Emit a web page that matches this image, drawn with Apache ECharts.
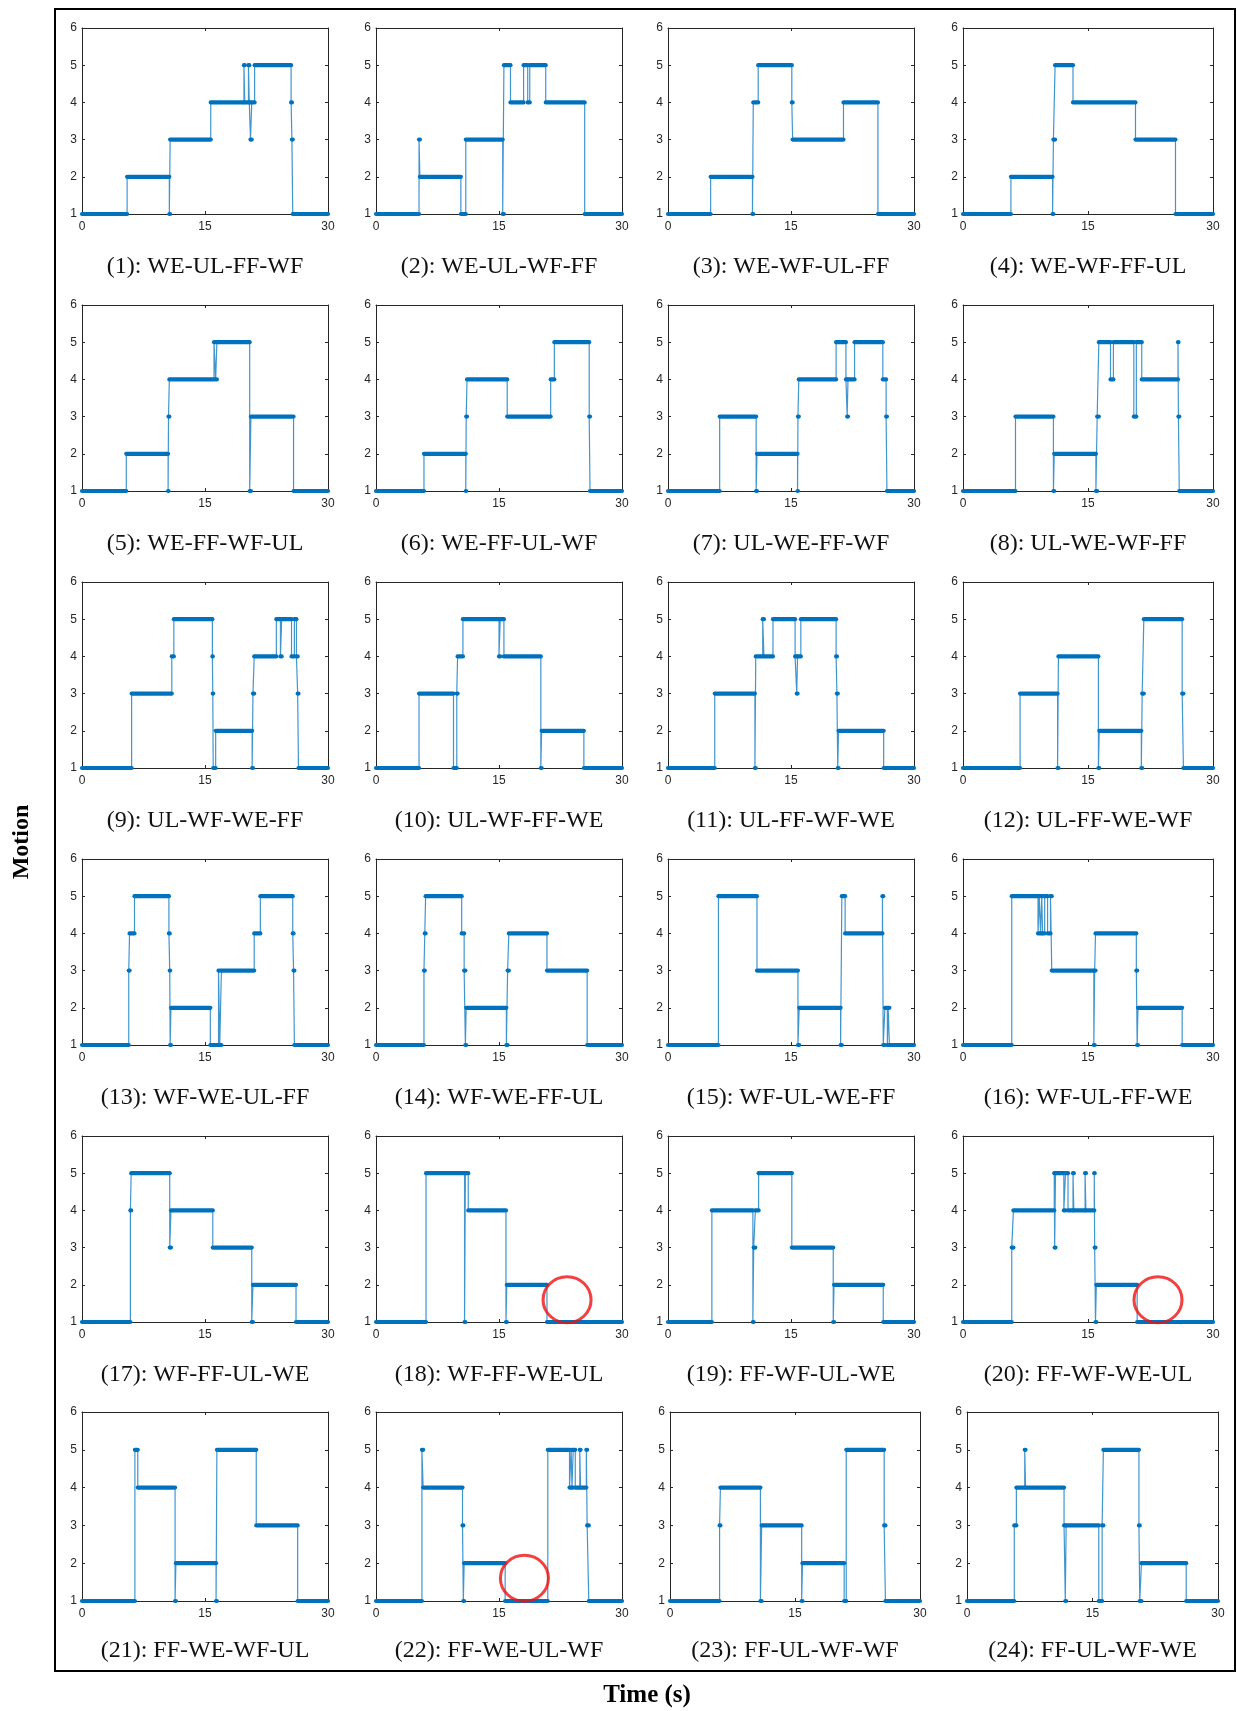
<!DOCTYPE html>
<html><head><meta charset="utf-8">
<script src="https://cdn.jsdelivr.net/npm/echarts@6/dist/echarts.min.js"></script>
<style>html,body{margin:0;padding:0;background:#fff}#c{width:1237px;height:1711px}</style>
</head><body><div id="c"></div>
<script>
// ---- data ----
const panelLabels = [
  '(1): WE-UL-FF-WF','(2): WE-UL-WF-FF','(3): WE-WF-UL-FF','(4): WE-WF-FF-UL',
  '(5): WE-FF-WF-UL','(6): WE-FF-UL-WF','(7): UL-WE-FF-WF','(8): UL-WE-WF-FF',
  '(9): UL-WF-WE-FF','(10): UL-WF-FF-WE','(11): UL-FF-WF-WE','(12): UL-FF-WE-WF',
  '(13): WF-WE-UL-FF','(14): WF-WE-FF-UL','(15): WF-UL-WE-FF','(16): WF-UL-FF-WE',
  '(17): WF-FF-UL-WE','(18): WF-FF-WE-UL','(19): FF-WF-UL-WE','(20): FF-WF-WE-UL',
  '(21): FF-WE-WF-UL','(22): FF-WE-UL-WF','(23): FF-UL-WF-WF','(24): FF-UL-WF-WE'
];
const xTickLabels = [0, 15, 30];
const yTickLabels = [1, 2, 3, 4, 5, 6];
const timeEnd = 30;
// change points [time (s), motion level] — level holds until next change point
const p01 = [[0,1],[5.5,2],[10.65,1],[10.75,3],[15.7,4],[19.75,5],[19.85,4],[20.3,5],[20.4,4],[20.55,3],[20.7,4],[21.05,5],[25.5,4],[25.6,3],[25.7,1]];
const p02 = [[0,1],[5.25,3],[5.35,2],[10.35,1],[10.95,3],[15.45,1],[15.6,5],[16.4,4],[18.0,5],[18.5,4],[18.75,5],[20.7,4],[25.45,1]];
const p03 = [[0,1],[5.2,2],[10.3,1],[10.4,4],[11.0,5],[15.1,4],[15.2,3],[21.4,4],[25.6,1]];
const p04 = [[0,1],[5.75,2],[10.75,1],[10.85,3],[11.05,5],[13.2,4],[20.7,3],[25.5,1]];
const p05 = [[0,1],[5.4,2],[10.5,1],[10.55,3],[10.65,4],[16.1,5],[16.3,4],[16.45,5],[20.45,1],[20.6,3],[25.8,1]];
const p06 = [[0,1],[5.85,2],[10.95,1],[11.0,3],[11.1,4],[16.0,3],[21.3,4],[21.75,5],[26.0,3],[26.1,1]];
const p07 = [[0,1],[6.3,3],[10.75,1],[10.85,2],[15.8,1],[15.85,3],[15.95,4],[20.5,5],[21.7,4],[21.85,3],[21.95,4],[22.75,5],[26.2,4],[26.6,3],[26.7,1]];
const p08 = [[0,1],[6.3,3],[10.85,1],[10.95,2],[15.95,1],[16.1,3],[16.3,5],[17.7,4],[18.05,5],[20.5,3],[20.8,5],[21.45,4],[25.8,5],[25.85,3],[25.95,1]];
const p09 = [[0,1],[6.05,3],[10.95,4],[11.2,5],[15.9,4],[15.95,3],[16.0,1],[16.3,2],[20.75,1],[20.85,3],[21.0,4],[23.7,5],[24.2,4],[24.35,5],[25.55,4],[25.9,5],[26.15,4],[26.3,3],[26.4,1]];
const p10 = [[0,1],[5.25,3],[9.45,1],[9.85,3],[9.95,4],[10.6,5],[15.0,4],[15.15,5],[15.6,4],[20.1,1],[20.2,2],[25.35,1]];
const p11 = [[0,1],[5.7,3],[10.6,1],[10.7,4],[11.55,5],[11.7,4],[12.8,5],[15.5,4],[15.7,3],[15.8,4],[16.2,5],[20.5,4],[20.6,3],[20.7,1],[20.8,2],[26.3,1]];
const p12 = [[0,1],[6.85,3],[11.35,1],[11.45,4],[16.25,1],[16.35,2],[21.4,1],[21.5,3],[21.7,5],[26.3,3],[26.45,1]];
const p13 = [[0,1],[5.7,3],[5.8,4],[6.4,5],[10.6,4],[10.7,3],[10.75,1],[10.85,2],[15.65,1],[16.65,3],[16.8,1],[17.0,3],[21.0,4],[21.75,5],[25.7,4],[25.8,3],[25.9,1]];
const p14 = [[0,1],[5.85,3],[5.95,4],[6.05,5],[10.45,4],[10.75,3],[10.9,1],[11.0,2],[15.9,1],[16.05,3],[16.2,4],[20.85,3],[25.75,1]];
const p15 = [[0,1],[6.15,5],[10.85,3],[15.85,1],[16.0,2],[21.05,1],[21.2,5],[21.6,4],[26.15,5],[26.25,1],[26.45,2],[26.75,1],[26.85,2],[27.0,1]];
const p16 = [[0,1],[5.85,5],[9.0,4],[9.15,5],[9.3,4],[9.45,5],[9.55,4],[9.8,5],[10.15,4],[10.5,5],[10.65,3],[15.7,1],[15.8,3],[15.9,4],[20.8,3],[20.9,1],[21.0,2],[26.3,1]];
const p17 = [[0,1],[5.9,4],[6.0,5],[10.7,3],[10.85,4],[15.95,3],[20.7,1],[20.85,2],[26.1,1]];
const p18 = [[0,1],[6.1,5],[10.8,1],[10.9,5],[11.25,4],[15.85,1],[15.95,2],[20.85,1]];
const p19 = [[0,1],[5.35,4],[10.35,1],[10.45,3],[10.65,4],[11.05,5],[15.1,3],[20.15,1],[20.25,2],[26.25,1]];
const p20 = [[0,1],[5.85,3],[6.05,4],[10.95,5],[11.0,3],[11.1,5],[12.1,4],[12.3,5],[12.6,4],[13.2,5],[13.3,4],[14.65,5],[14.75,4],[15.75,5],[15.8,3],[15.9,1],[16.0,2],[20.9,1]];
const p21 = [[0,1],[6.45,5],[6.8,4],[11.35,1],[11.45,2],[16.35,1],[16.45,5],[21.25,3],[26.3,1]];
const p22 = [[0,1],[5.6,5],[5.75,4],[10.55,3],[10.65,1],[10.75,2],[15.75,1],[20.95,5],[23.6,4],[23.8,5],[23.9,4],[24.05,5],[24.3,4],[24.85,5],[24.95,4],[25.65,5],[25.75,3],[25.95,1]];
const p23 = [[0,1],[5.95,3],[6.05,4],[10.85,1],[11.0,3],[15.8,1],[15.9,2],[20.9,1],[21.15,5],[25.7,3],[25.85,1]];
const p24 = [[0,1],[5.65,3],[5.9,4],[6.9,5],[7.0,4],[11.6,3],[11.75,1],[11.85,3],[15.75,1],[16.15,3],[16.3,5],[20.55,3],[20.65,1],[20.85,2],[26.2,1]];
const panels = [p01,p02,p03,p04,p05,p06,p07,p08,p09,p10,p11,p12,p13,p14,p15,p16,p17,p18,p19,p20,p21,p22,p23,p24];
// red circle annotations: [panel index, time, level]
const circleMarks = [[17, 23.3, 1.6], [19, 23.4, 1.6], [21, 18.1, 1.6]];

// ---- layout ----
const colLeft = [82, 376, 668, 963];
const colWidth = [246, 246, 246, 250];
const lastRowLeft = [82, 376, 670, 967];
const lastRowWidth = [246, 246, 250, 251];
const rowTop = [28, 305, 582, 859, 1136, 1412];
const rowHeight = [186, 186, 186, 186, 186, 189];
const BLUE = '#0072BD';
const AX = '#262626';

const grid = [], xAxis = [], yAxis = [], series = [], graphic = [];
panels.forEach((pts, i) => {
  const r = Math.floor(i / 4), c = i % 4;
  const L = r === 5 ? lastRowLeft[c] : colLeft[c];
  const W = r === 5 ? lastRowWidth[c] : colWidth[c];
  const T = rowTop[r], H = rowHeight[r];
  grid.push({left: L, top: T, width: W, height: H, containLabel: false});
  const axLine = {show: true, onZero: false, lineStyle: {color: AX, width: 1}};
  const tick = {show: true, inside: true, length: 3, lineStyle: {color: AX}};
  xAxis.push({gridIndex: i, type: 'value', min: xTickLabels[0], max: xTickLabels[2], interval: xTickLabels[1] - xTickLabels[0],
    position: 'bottom', axisLine: axLine, axisTick: tick, splitLine: {show: false},
    axisLabel: {color: AX, fontSize: 12, fontFamily: 'Liberation Sans', margin: 7}});
  xAxis.push({gridIndex: i, type: 'value', min: 0, max: 30, interval: 15, position: 'top',
    axisLine: axLine, axisTick: tick, splitLine: {show: false}, axisLabel: {show: false}});
  yAxis.push({gridIndex: i, type: 'value', min: yTickLabels[0], max: yTickLabels[yTickLabels.length - 1], interval: 1,
    position: 'left', axisLine: axLine, axisTick: tick, splitLine: {show: false},
    axisLabel: {color: AX, fontSize: 12, fontFamily: 'Liberation Sans', margin: 5}});
  yAxis.push({gridIndex: i, type: 'value', min: 1, max: 6, interval: 1, position: 'right',
    axisLine: axLine, axisTick: tick, splitLine: {show: false}, axisLabel: {show: false}});
  const lineData = pts.map(p => [p[0], p[1]]).concat([[timeEnd, pts[pts.length - 1][1]]]);
  series.push({type: 'line', xAxisIndex: 2 * i, yAxisIndex: 2 * i, step: 'end', data: lineData,
    symbol: 'none', lineStyle: {color: BLUE, width: 1.2, opacity: 0.75}, silent: true, z: 2});
  const segs = pts.map((p, k) => [p[0], k + 1 < pts.length ? pts[k + 1][0] : timeEnd, p[1]]);
  series.push({type: 'custom', xAxisIndex: 2 * i, yAxisIndex: 2 * i, data: segs, encode: {x: [0, 1], y: 2},
    clip: false, silent: true, z: 3,
    renderItem: (params, api) => {
      const a = api.coord([api.value(0), api.value(2)]);
      const b = api.coord([api.value(1), api.value(2)]);
      return {type: 'line', shape: {x1: a[0], y1: a[1], x2: b[0], y2: b[1]},
        style: {stroke: BLUE, lineWidth: 4.2, lineCap: 'round'}};
    }});
  graphic.push({type: 'text', x: L + W / 2, y: T + 239,
    style: {text: panelLabels[i], textAlign: 'center', textVerticalAlign: 'middle',
      font: '24px "Liberation Serif"', fill: '#111'}});
});
circleMarks.forEach(m => {
  series.push({type: 'scatter', xAxisIndex: 2 * m[0], yAxisIndex: 2 * m[0], data: [[m[1], m[2]]],
    symbol: 'circle', symbolSize: [48, 46], silent: true, z: 5,
    itemStyle: {color: 'rgba(0,0,0,0)', borderColor: '#EE1111', borderWidth: 3}});
});
graphic.push({type: 'rect', shape: {x: 55, y: 9, width: 1180, height: 1662}, style: {fill: null, stroke: '#000', lineWidth: 2}});
graphic.push({type: 'text', x: 22, y: 842, rotation: Math.PI / 2,
  style: {text: 'Motion', textAlign: 'center', textVerticalAlign: 'middle', font: 'bold 24px "Liberation Serif"', fill: '#000'}});
graphic.push({type: 'text', x: 647, y: 1696,
  style: {text: 'Time (s)', textAlign: 'center', textVerticalAlign: 'middle', font: 'bold 25px "Liberation Serif"', fill: '#000'}});

const chart = echarts.init(document.getElementById('c'), null, {renderer: 'canvas'});
chart.setOption({animation: false, backgroundColor: '#fff', grid, xAxis, yAxis, series, graphic});
</script></body></html>
